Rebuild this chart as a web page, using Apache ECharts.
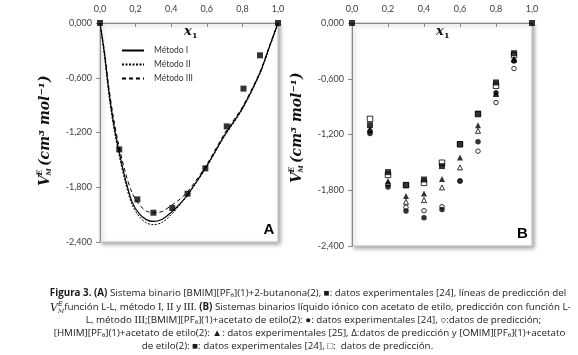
<!DOCTYPE html>
<html><head><meta charset="utf-8">
<script src="https://cdn.jsdelivr.net/npm/echarts@6/dist/echarts.min.js"></script>
<style>html,body{margin:0;padding:0;background:#fff}#c{width:578px;height:355px}</style>
</head><body><div id="c"></div>
<script>
// Tick labels
const xTicks = ['0,0', '0,2', '0,4', '0,6', '0,8', '1,0'];
const yTicks = ['0,000', '-0,600', '-1,200', '-1,800', '-2,400'];

// Panel A: [BMIM][PF6](1)+2-butanona(2)
const aExpX = [0, 0.108, 0.21, 0.30, 0.406, 0.492, 0.592, 0.712, 0.806, 0.899, 1.0];
const aExpY = [0, -1.385, -1.933, -2.079, -2.028, -1.871, -1.593, -1.133, -0.719, -0.354, 0];
const aLineX = [0, 0.025, 0.05, 0.075, 0.1, 0.14, 0.18, 0.22, 0.26, 0.3, 0.35, 0.4, 0.45, 0.5, 0.6, 0.7, 0.8, 0.9, 0.95, 1];
const metodoI   = [0, -0.33, -0.75, -1.08, -1.34, -1.69, -1.96, -2.09, -2.155, -2.175, -2.15, -2.075, -1.98, -1.86, -1.565, -1.23, -0.935, -0.54, -0.27, 0];
const metodoII  = [0, -0.36, -0.79, -1.12, -1.38, -1.73, -1.99, -2.12, -2.19, -2.21, -2.185, -2.10, -1.99, -1.87, -1.575, -1.24, -0.945, -0.55, -0.28, 0];
const metodoIII = [0, -0.31, -0.71, -1.03, -1.29, -1.62, -1.86, -1.99, -2.06, -2.08, -2.065, -2.00, -1.93, -1.83, -1.55, -1.21, -0.92, -0.53, -0.26, 0];

// Panel B: ionic liquids + acetato de etilo
const bX = [0.1, 0.2, 0.3, 0.4, 0.5, 0.6, 0.7, 0.8, 0.9];
const bmimExp  = [-1.189, -1.765, -2.024, -2.096, -2.006, -1.700, -1.279, -0.752, -0.410];
const bmimPred = [-1.164, -1.737, -1.984, -2.020, -1.977, -1.700, -1.379, -0.856, -0.490];
const hmimExp  = [-1.143, -1.700, -1.863, -1.834, -1.680, -1.447, -1.100, -0.760, -0.385];
const hmimPred = [-1.150, -1.725, -1.924, -1.906, -1.770, -1.554, -1.160, -0.765, -0.395];
const omimX    = [0, 0.1, 0.2, 0.3, 0.4, 0.5, 0.6, 0.7, 0.8, 0.9, 1.0];
const omimExp  = [0, -1.100, -1.605, -1.744, -1.685, -1.540, -1.304, -0.977, -0.640, -0.325, 0];
const omimPred = [-1.032, -1.635, -1.745, -1.720, -1.504, -1.305, -0.980, -0.675, -0.345];

const pairs = (xs, ys) => ys.map((y, i) => [xs[i], y]);

const chart = echarts.init(document.getElementById('c'), null, {renderer: 'canvas'});

const gridStyle = {
  show: true, backgroundColor: '#fff', borderColor: '#c4c4c4', borderWidth: 1,
  shadowColor: 'rgba(0,0,0,0.35)', shadowBlur: 4, shadowOffsetX: 2, shadowOffsetY: 2
};
const axisCol = '#868686';
const mkX = (gi) => ({
  gridIndex: gi, type: 'value', position: 'top', min: 0, max: 1, interval: 0.2,
  axisLine: {show: true, onZero: false, lineStyle: {color: axisCol, width: 1}},
  axisTick: {show: true, inside: true, length: 4, lineStyle: {color: axisCol}},
  axisLabel: {margin: 9, fontSize: 9, fontFamily: 'Lato', color: '#404040',
    formatter: v => xTicks[Math.round(v / 0.2)]},
  splitLine: {show: false}
});
const mkY = (gi) => ({
  gridIndex: gi, type: 'value', min: -2.4, max: 0, interval: 0.6,
  axisLine: {show: true, onZero: false, lineStyle: {color: axisCol, width: 1}},
  axisTick: {show: true, inside: false, length: 4, lineStyle: {color: axisCol}},
  axisLabel: {margin: 8, fontSize: 9, fontFamily: 'Lato', color: '#404040',
    formatter: v => yTicks[Math.round(-v / 0.6)]},
  splitLine: {show: false}
});

const serifBI = '"DejaVu Serif"';
function yTitle(x, y) {
  return {
    type: 'group', x: x, y: y, rotation: Math.PI / 2, silent: true,
    children: [
      {type: 'text', x: 0, y: 0, style: {text: 'V', font: 'italic bold 14px ' + serifBI, fill: '#111', align: 'left', textAlign: 'left', verticalAlign: 'middle', textVerticalAlign: 'middle'}},
      {type: 'text', x: 10.5, y: -5, style: {text: 'E', font: 'italic bold 7.5px ' + serifBI, fill: '#111', align: 'left', textAlign: 'left', verticalAlign: 'middle', textVerticalAlign: 'middle'}},
      {type: 'text', x: 10.5, y: 4.5, style: {text: 'M', font: 'italic bold 6.5px ' + serifBI, fill: '#111', align: 'left', textAlign: 'left', verticalAlign: 'middle', textVerticalAlign: 'middle'}},
      {type: 'text', x: 20, y: 0, style: {text: '(cm³ mol⁻¹)', font: 'italic bold 14px ' + serifBI, fill: '#111', align: 'left', textAlign: 'left', verticalAlign: 'middle', textVerticalAlign: 'middle'}}
    ]
  };
}
function xTitle(x, y) {
  return {
    type: 'group', x: x, y: y, silent: true,
    children: [
      {type: 'text', x: 0, y: 0, style: {text: 'x', font: 'italic bold 13px ' + serifBI, fill: '#111', align: 'left', textAlign: 'left', verticalAlign: 'middle', textVerticalAlign: 'middle'}},
      {type: 'text', x: 8, y: 3.5, style: {text: '1', font: 'bold 8px ' + serifBI, fill: '#111', align: 'left', textAlign: 'left', verticalAlign: 'middle', textVerticalAlign: 'middle'}}
    ]
  };
}

const cf = '9.8px "Open Sans"';
const rich = {
  b: {font: 'bold 9.8px "Open Sans"', fill: '#1a1a1a'},
  r: {font: '10.5px "Liberation Serif"', fill: '#1a1a1a'}
};
function capLine(text, x, y, align) {
  return {type: 'text', x: x, y: y, silent: true,
    style: {text: text, font: cf, fill: '#1a1a1a', rich: rich,
      align: align, textAlign: align, verticalAlign: 'middle', textVerticalAlign: 'middle'}};
}

const scatterBase = {type: 'scatter', clip: false};

const option = {
  backgroundColor: '#fff',
  animation: false,
  grid: [
    Object.assign({left: 100, top: 23, width: 178, height: 219}, gridStyle),
    Object.assign({left: 352, top: 23, width: 180, height: 223}, gridStyle)
  ],
  xAxis: [mkX(0), mkX(1)],
  yAxis: [mkY(0), mkY(1)],
  legend: {
    data: ['Método I', 'Método II', 'Método III'],
    orient: 'vertical', left: 121, top: 46, itemWidth: 22, itemHeight: 8, itemGap: 5,
    padding: 0,
    itemStyle: {color: 'rgba(0,0,0,0)', borderColor: 'rgba(0,0,0,0)', borderWidth: 0},
    textStyle: {fontSize: 8.5, fontFamily: 'Lato', color: '#333', padding: [0, 0, 0, 5]}
  },
  series: [
    {name: 'Método I', type: 'line', xAxisIndex: 0, yAxisIndex: 0, data: pairs(aLineX, metodoI),
      smooth: 0.3, symbol: 'none', lineStyle: {color: '#000', width: 1.2, type: 'solid'}, itemStyle: {color: '#000'}, z: 3},
    {name: 'Método II', type: 'line', xAxisIndex: 0, yAxisIndex: 0, data: pairs(aLineX, metodoII),
      smooth: 0.3, symbol: 'none', lineStyle: {color: '#000', width: 1, type: [2, 1.5]}, itemStyle: {color: '#000'}, z: 3},
    {name: 'Método III', type: 'line', xAxisIndex: 0, yAxisIndex: 0, data: pairs(aLineX, metodoIII),
      smooth: 0.3, symbol: 'none', lineStyle: {color: '#000', width: 1, type: [4, 3]}, itemStyle: {color: '#000'}, z: 3},
    Object.assign({name: 'A exp', xAxisIndex: 0, yAxisIndex: 0, data: pairs(aExpX, aExpY),
      symbol: 'rect', symbolSize: 6, itemStyle: {color: '#000'}, z: 5}, scatterBase),

    Object.assign({name: 'BMIM pred', xAxisIndex: 1, yAxisIndex: 1, data: pairs(bX, bmimPred),
      symbol: 'circle', symbolSize: 4.5, itemStyle: {color: '#fff', borderColor: '#000', borderWidth: 1}, z: 4}, scatterBase),
    Object.assign({name: 'BMIM exp', xAxisIndex: 1, yAxisIndex: 1, data: pairs(bX, bmimExp),
      symbol: 'circle', symbolSize: 5.5, itemStyle: {color: '#000'}, z: 5}, scatterBase),
    Object.assign({name: 'HMIM pred', xAxisIndex: 1, yAxisIndex: 1, data: pairs(bX, hmimPred),
      symbol: 'triangle', symbolSize: 5, itemStyle: {color: '#fff', borderColor: '#000', borderWidth: 1}, z: 4}, scatterBase),
    Object.assign({name: 'HMIM exp', xAxisIndex: 1, yAxisIndex: 1, data: pairs(bX, hmimExp),
      symbol: 'triangle', symbolSize: 6, itemStyle: {color: '#000'}, z: 5}, scatterBase),
    Object.assign({name: 'OMIM pred', xAxisIndex: 1, yAxisIndex: 1, data: pairs(bX, omimPred),
      symbol: 'rect', symbolSize: 5.5, itemStyle: {color: '#fff', borderColor: '#000', borderWidth: 1}, z: 4}, scatterBase),
    Object.assign({name: 'OMIM exp', xAxisIndex: 1, yAxisIndex: 1, data: pairs(omimX, omimExp),
      symbol: 'rect', symbolSize: 6, itemStyle: {color: '#000'}, z: 5}, scatterBase)
  ],
  graphic: [
    yTitle(45, 186),
    yTitle(297, 183),
    xTitle(184, 32),
    xTitle(436, 32),
    {type: 'text', x: 269, y: 230, silent: true, style: {text: 'A', font: 'bold 15px "Liberation Sans"', fill: '#000', align: 'center', textAlign: 'center', verticalAlign: 'middle', textVerticalAlign: 'middle'}},
    {type: 'text', x: 522.5, y: 234, silent: true, style: {text: 'B', font: 'bold 15px "Liberation Sans"', fill: '#000', align: 'center', textAlign: 'center', verticalAlign: 'middle', textVerticalAlign: 'middle'}},

    capLine('{b|Figura 3. (A)} Sistema binario [BMIM][PF₆](1)+2-butanona(2), ■: datos experimentales [24], líneas de predicción del', 308, 293.5, 'center'),
    {type: 'text', x: 50, y: 308.5, silent: true, style: {text: 'V', font: 'italic 11px "DejaVu Serif"', fill: '#1a1a1a', align: 'left', textAlign: 'left', verticalAlign: 'middle', textVerticalAlign: 'middle'}},
    {type: 'text', x: 58, y: 304, silent: true, style: {text: 'E', font: 'italic 6.5px "DejaVu Serif"', fill: '#1a1a1a', align: 'left', textAlign: 'left', verticalAlign: 'middle', textVerticalAlign: 'middle'}},
    {type: 'text', x: 58, y: 311.5, silent: true, style: {text: 'M', font: 'italic 6px "DejaVu Serif"', fill: '#1a1a1a', align: 'left', textAlign: 'left', verticalAlign: 'middle', textVerticalAlign: 'middle'}},
    capLine('función L-L, método {r|I}, {r|II} y {r|III}. {b|(B)} Sistemas binarios líquido iónico con acetato de etilo, predicción con función L-', 317.5, 307.5, 'center'),
    capLine('L, método {r|III};[BMIM][PF₆](1)+acetato de etilo(2): ●: datos experimentales [24], ○:datos de predicción;', 313.5, 320, 'center'),
    capLine('[HMIM][PF₆](1)+acetato de etilo(2): ▲: datos experimentales [25], Δ:datos de predicción y [OMIM][PF₆](1)+acetato', 309.5, 333, 'center'),
    capLine('de etilo(2): ■: datos experimentales [24], □:  datos de predicción.', 287.5, 346.5, 'center')
  ]
};
chart.setOption(option);
// second pass so that the end-point markers on the axis corners are redrawn
chart.setOption({graphic: option.graphic});
</script>
</body></html>
